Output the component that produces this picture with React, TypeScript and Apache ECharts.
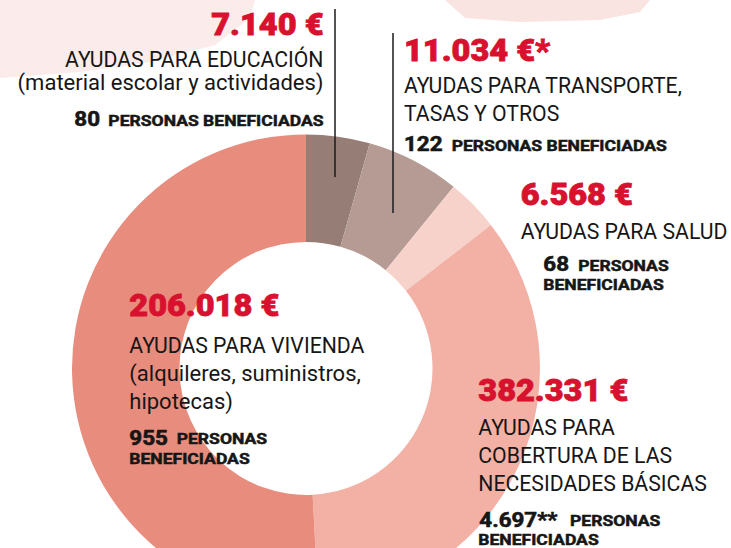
import React, { useEffect, useRef } from "react";
import * as echarts from "echarts";

// ---- Data ----
const categories = [
  "Educación",
  "Transporte, tasas y otros",
  "Salud",
  "Necesidades básicas",
  "Vivienda",
];
// slice sizes as drawn in the reference (degrees of the ring)
const sliceAngles = [15.8, 23.3, 13.1, 124.8, 183.0];
const amounts = ["7.140 €", "11.034 €*", "6.568 €", "382.331 €", "206.018 €"];
const beneficiaries = ["80", "122", "68", "4.697**", "955"];
const descriptions = [
  ["AYUDAS PARA EDUCACIÓN", "(material escolar y actividades)"],
  ["AYUDAS PARA TRANSPORTE,", "TASAS Y OTROS"],
  ["AYUDAS PARA SALUD"],
  ["AYUDAS PARA", "COBERTURA DE LAS", "NECESIDADES BÁSICAS"],
  ["AYUDAS PARA VIVIENDA", "(alquileres, suministros,", "hipotecas)"],
];
const sliceColors = ["#967e77", "#b59b93", "#f7d2ca", "#f2b1a4", "#e88c7e"];

const RED = "#d7112e";
const INK = "#161616";
const FONT = "Roboto, 'Noto Sans', sans-serif";

type Block = {
  x: number;
  align: "left" | "right";
  amountY: number;
  descY: number[];
  numX: number;
  numY: number;
  persX: number;
  persY: number;
  persText: string;
  benX?: number;
  benY?: number;
};

const blocks: Block[] = [
  { x: 323.5, align: "right", amountY: 22.5, descY: [57.7, 81.4], numX: 100, numY: 117.8, persX: 323.5, persY: 119.5, persText: "PERSONAS BENEFICIADAS" },
  { x: 404, align: "left", amountY: 48.3, descY: [84.3, 111.8], numX: 404, numY: 143, persX: 451.7, persY: 144.6, persText: "PERSONAS BENEFICIADAS" },
  { x: 520.7, align: "left", amountY: 192.8, descY: [229.5], numX: 543.3, numY: 262.5, persX: 578.3, persY: 264.5, persText: "PERSONAS", benX: 543.3, benY: 284.3 },
  { x: 478.3, align: "left", amountY: 388.8, descY: [426, 453.8, 482], numX: 479.3, numY: 518.5, persX: 570, persY: 520, persText: "PERSONAS", benX: 478.3, benY: 539.3 },
  { x: 129.3, align: "left", amountY: 303.8, descY: [344.2, 372, 400.5], numX: 129.3, numY: 436.2, persX: 176.7, persY: 437.7, persText: "PERSONAS", benX: 129.3, benY: 458.3 },
];

function txt(
  text: string,
  x: number,
  capMid: number,
  size: number,
  weight: string | number,
  color: string,
  align: "left" | "right",
  sx: number,
  stroke = 0
) {
  return {
    type: "text",
    x,
    y: capMid + 0.065 * size,
    scaleX: sx,
    z: 20,
    silent: true,
    style: {
      text,
      x: 0,
      y: 0,
      fontSize: size,
      fontWeight: weight,
      fontFamily: FONT,
      fill: color,
      stroke: stroke > 0 ? color : undefined,
      lineWidth: stroke,
      align,
      verticalAlign: "middle",
      textAlign: align,
      textVerticalAlign: "middle",
    },
  };
}

export default function App() {
  const ref = useRef<HTMLDivElement>(null);

  useEffect(() => {
    if (!ref.current) return;
    const chart = echarts.init(ref.current, undefined, { renderer: "svg" });

    const graphics: any[] = [];

    // faint background blobs
    graphics.push({
      type: "polygon",
      z: 0,
      silent: true,
      shape: {
        points: [
          [0, 0], [255, 0], [250, 18], [215, 45], [150, 62], [80, 72], [0, 78],
        ],
      },
      style: { fill: "#fbeceb" },
    });
    graphics.push({
      type: "polygon",
      z: 0,
      silent: true,
      shape: {
        points: [
          [445, 0], [650, 0], [640, 12], [600, 20], [520, 22], [465, 18],
        ],
      },
      style: { fill: "#f9e4e2" },
    });

    // leader lines
    graphics.push({
      type: "line",
      z: 30,
      silent: true,
      shape: { x1: 335, y1: 9, x2: 335, y2: 177 },
      style: { stroke: "#1b1b1b", lineWidth: 1.5 },
    });
    graphics.push({
      type: "line",
      z: 30,
      silent: true,
      shape: { x1: 393, y1: 33, x2: 393, y2: 213 },
      style: { stroke: "#1b1b1b", lineWidth: 1.5 },
    });

    blocks.forEach((b, i) => {
      graphics.push(txt(amounts[i], b.x, b.amountY, 31, 900, RED, b.align, 1.05, 0.8));
      descriptions[i].forEach((line, j) => {
        const hasLower = /[a-z]/.test(line);
        graphics.push(txt(line, b.x, b.descY[j], 22, "normal", INK, b.align, hasLower ? 1.0 : 0.965));
      });
      graphics.push(txt(beneficiaries[i], b.numX, b.numY, 20, "bold", INK, b.align, 1.12, 0.6));
      graphics.push(txt(b.persText, b.persX, b.persY, 15, "bold", INK, b.align, 1.17, 0.5));
      if (b.benX !== undefined && b.benY !== undefined) {
        graphics.push(txt("BENEFICIADAS", b.benX, b.benY, 15, "bold", INK, b.align, 1.17, 0.5));
      }
    });

    chart.setOption({
      animation: false,
      backgroundColor: "#ffffff",
      series: [
        {
          type: "pie",
          name: "Ayudas",
          center: [306, 368.4],
          radius: [126.5, 234],
          startAngle: 90,
          clockwise: true,
          silent: true,
          label: { show: false },
          labelLine: { show: false },
          emphasis: { disabled: true },
          itemStyle: { borderWidth: 0 },
          data: categories.map((c, i) => ({
            name: c,
            value: sliceAngles[i],
            itemStyle: { color: sliceColors[i] },
          })),
          z: 5,
        },
      ],
      graphic: { elements: graphics },
    });

    return () => chart.dispose();
  }, []);

  return (
    <div
      ref={ref}
      style={{ position: "absolute", left: 0, top: 0, width: 731, height: 548 }}
    />
  );
}
